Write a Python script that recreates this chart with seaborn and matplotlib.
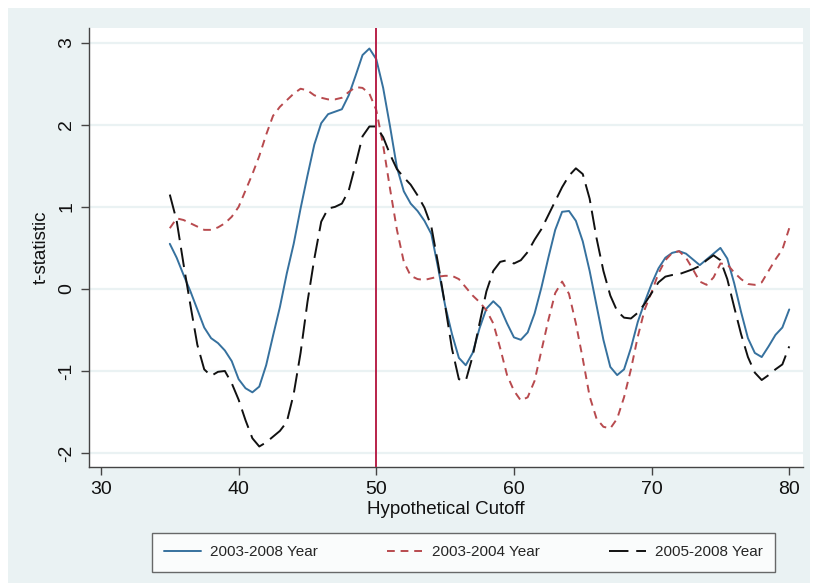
import pandas as pd
import numpy as np
import matplotlib
matplotlib.use("Agg")
import matplotlib.pyplot as plt
import seaborn as sns
from matplotlib.patches import Rectangle

# hypothetical cutoff values (x) and t-statistics
cutoff = np.arange(35, 80.5, 0.5)

t_2003_2008 = [
    0.55, 0.38, 0.17, -0.03, -0.25, -0.47, -0.60, -0.66, -0.75, -0.88,
    -1.10, -1.21, -1.26, -1.19, -0.93, -0.57, -0.22, 0.19, 0.55, 0.98,
    1.38, 1.76, 2.02, 2.13, 2.16, 2.19, 2.36, 2.60, 2.85, 2.93,
    2.80, 2.45, 1.98, 1.48, 1.19, 1.04, 0.95, 0.83, 0.67, 0.25,
    -0.20, -0.55, -0.84, -0.93, -0.78, -0.48, -0.24, -0.15, -0.23, -0.42,
    -0.59, -0.62, -0.53, -0.30, 0.02, 0.38, 0.72, 0.94, 0.95, 0.83,
    0.58, 0.22, -0.20, -0.62, -0.95, -1.05, -0.98, -0.72, -0.40, -0.16,
    0.06, 0.25, 0.38, 0.44, 0.46, 0.43, 0.36, 0.29, 0.36, 0.43,
    0.50, 0.37, 0.07, -0.28, -0.60, -0.78, -0.83, -0.70, -0.56, -0.47,
    -0.25,
]

t_2003_2004 = [
    0.74, 0.86, 0.84, 0.80, 0.76, 0.72, 0.72, 0.75, 0.80, 0.88,
    1.00, 1.20, 1.40, 1.62, 1.88, 2.11, 2.22, 2.30, 2.38, 2.44,
    2.42, 2.36, 2.33, 2.31, 2.31, 2.33, 2.40, 2.46, 2.45, 2.38,
    2.18, 1.75, 1.22, 0.72, 0.33, 0.16, 0.12, 0.11, 0.13, 0.15,
    0.16, 0.16, 0.12, 0.02, -0.08, -0.16, -0.26, -0.42, -0.72, -1.05,
    -1.24, -1.36, -1.32, -1.12, -0.75, -0.38, -0.05, 0.09, -0.06, -0.42,
    -0.85, -1.31, -1.58, -1.68, -1.70, -1.58, -1.32, -0.98, -0.58, -0.25,
    -0.04, 0.19, 0.35, 0.44, 0.46, 0.38, 0.24, 0.09, 0.05, 0.14,
    0.31, 0.30, 0.20, 0.12, 0.06, 0.05, 0.08, 0.22, 0.36, 0.48,
    0.74,
]

t_2005_2008 = [
    1.15, 0.83, 0.30, -0.20, -0.68, -0.98, -1.06, -1.01, -1.00, -1.15,
    -1.35, -1.60, -1.82, -1.92, -1.87, -1.80, -1.73, -1.62, -1.28, -0.78,
    -0.16, 0.37, 0.82, 0.98, 1.00, 1.04, 1.20, 1.52, 1.86, 1.98,
    1.98, 1.85, 1.64, 1.46, 1.36, 1.27, 1.14, 0.99, 0.76, 0.30,
    -0.20, -0.73, -1.10, -1.12, -0.82, -0.42, -0.03, 0.22, 0.33, 0.35,
    0.31, 0.35, 0.45, 0.60, 0.73, 0.90, 1.07, 1.24, 1.38, 1.47,
    1.40, 1.10, 0.62, 0.22, -0.08, -0.27, -0.35, -0.36, -0.29, -0.18,
    -0.05, 0.08, 0.15, 0.17, 0.18, 0.21, 0.24, 0.28, 0.35, 0.41,
    0.35, 0.12, -0.22, -0.55, -0.83, -1.02, -1.11, -1.05, -0.98, -0.92,
    -0.70,
]

series_names = ["2003-2008 Year", "2003-2004 Year", "2005-2008 Year"]
x_ticks = [30, 40, 50, 60, 70, 80]
y_ticks = [-2, -1, 0, 1, 2, 3]

# long format for seaborn
df = pd.concat([
    pd.DataFrame({"cutoff": cutoff, "t": vals, "series": name})
    for name, vals in zip(series_names, [t_2003_2008, t_2003_2004, t_2005_2008])
])

colours = {
    "2003-2008 Year": "#36719E",
    "2003-2004 Year": "#B84A4E",
    "2005-2008 Year": "#111111",
}
dashes = {
    "2003-2008 Year": "",
    "2003-2004 Year": (4, 3),
    "2005-2008 Year": (10, 4),
}

sns.set_style("white")
plt.rcParams["font.family"] = ["Liberation Sans", "DejaVu Sans"]

W, H = 813, 586
fig = plt.figure(figsize=(W / 100, H / 100), dpi=100, facecolor="white")

# stata-like light graph region
fig.patches.append(Rectangle((8 / W, 3 / H), (W - 11) / W, (H - 11) / H,
                             transform=fig.transFigure, facecolor="#EAF2F3",
                             edgecolor="none", zorder=-10))

ax = fig.add_axes([89 / W, 1 - 467 / H, (803 - 89) / W, (467 - 28) / H])
ax.set_facecolor("white")

sns.lineplot(data=df, x="cutoff", y="t", hue="series", style="series",
             palette=colours, dashes=dashes, linewidth=1.4, ax=ax)

ax.axvline(50, color="#B8224A", linewidth=1.4, zorder=5)

ax.set_xlim(29.13, 81.0)
ax.set_ylim(-2.17, 3.18)
ax.set_xticks(x_ticks)
ax.set_yticks(y_ticks)
ax.set_yticklabels([str(v) for v in y_ticks], rotation=90, va="center")
ax.tick_params(axis="both", direction="out", length=6, width=1, color="#444444",
               labelsize=14, labelcolor="#111111", bottom=True, left=True, pad=4)

ax.grid(axis="y", color="#EAF2F3", linewidth=1.6)
ax.grid(axis="x", visible=False)
for s in ["top", "right"]:
    ax.spines[s].set_visible(False)
for s in ["left", "bottom"]:
    ax.spines[s].set_color("#444444")
    ax.spines[s].set_linewidth(1.0)

ax.set_xlabel("Hypothetical Cutoff", fontsize=13.5, color="#111111", labelpad=2)
ax.set_ylabel("t-statistic", fontsize=13.5, color="#111111", labelpad=6)

handles, labels = ax.get_legend_handles_labels()
ax.get_legend().remove()
leg = fig.legend(handles, labels, ncol=3, loc="center", mode="expand",
                 bbox_to_anchor=(152 / W, 1 - 572 / H, (775 - 152) / W, 39 / H),
                 fontsize=11, frameon=True, fancybox=False, handlelength=2.4,
                 handletextpad=0.6, borderpad=0.8, borderaxespad=0)
leg.get_frame().set_edgecolor("#444444")
leg.get_frame().set_linewidth(1.0)
leg.get_frame().set_facecolor("white")

fig.savefig("out.png", dpi=100, facecolor=fig.get_facecolor())
